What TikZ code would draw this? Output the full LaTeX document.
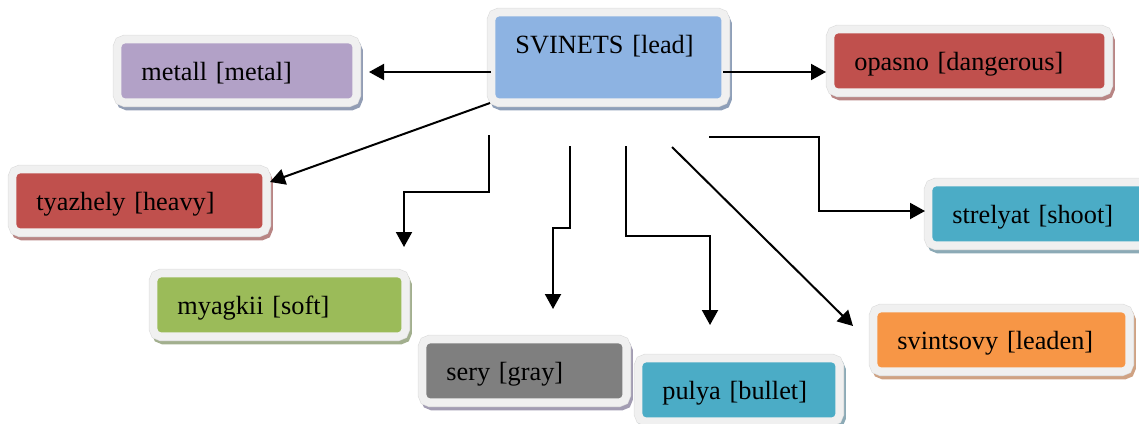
\documentclass[tikz,border=0pt]{standalone}
\usepackage{fontspec}
\setmainfont{Liberation Serif}
\usetikzlibrary{arrows.meta}
\definecolor{cblue}{HTML}{8DB3E2}\definecolor{sblue}{HTML}{8E9FB8}
\definecolor{clav}{HTML}{B2A1C7}\definecolor{slav}{HTML}{929DB4}
\definecolor{cred}{HTML}{C0504D}\definecolor{sred}{HTML}{B88584}
\definecolor{cgreen}{HTML}{9BBB59}\definecolor{sgreen}{HTML}{A2AF8E}
\definecolor{cgray}{HTML}{7F7F7F}\definecolor{sgray}{HTML}{A29CB2}
\definecolor{cteal}{HTML}{4BACC6}\definecolor{steal}{HTML}{8CAAB6}
\definecolor{corange}{HTML}{F79646}\definecolor{sorange}{HTML}{CFA283}
\definecolor{framegray}{HTML}{F0F0F0}\definecolor{frameedge}{HTML}{DCDCDC}
\tikzset{
  cbox/.style n args={3}{
    anchor=north west, fill=#1, rounded corners=2pt,
    inner xsep=10pt, inner ysep=0pt, text width=#3, align=left,
    text height=18.5pt, text depth=9pt,
    font=\fontsize{13.15pt}{15pt}\selectfont,
    preaction={draw=#2, fill=#2, line width=8pt,
               transform canvas={shift={(1.2pt,-2pt)}}},
    preaction={draw=frameedge, line width=8.6pt},
    preaction={draw=framegray, line width=8pt}},
  conn/.style={line width=1pt, -{Triangle[length=7.5pt,width=8pt]}}
}
\begin{document}
\begin{tikzpicture}[x=0.5pt,y=-0.5pt]
\useasboundingbox (0,0) rectangle (1139,423);
\clip (0,0) rectangle (1139,423);
% boxes
\node[cbox={cblue}{sblue}{93pt}, text depth=22.5pt] (root) at (495,16) {SVINETS [lead]};
\node[cbox={clav}{slav}{95.5pt}] (metall) at (121,43) {metall [metal]};
\node[cbox={cred}{sred}{115pt}] (opasno) at (834,33) {opasno [dangerous]};
\node[cbox={cred}{sred}{103pt}] (tyazh) at (16,173) {tyazhely [heavy]};
\node[cbox={cgreen}{sgreen}{102pt}] (myag) at (157,277) {myagkii [soft]};
\node[cbox={cgray}{sgray}{78pt}] (sery) at (426,343) {sery [gray]};
\node[cbox={cteal}{steal}{76.5pt}] (pulya) at (642,362) {pulya [bullet]};
\node[cbox={cteal}{steal}{100pt}] (strel) at (932,186) {strelyat [shoot]};
\node[cbox={corange}{sorange}{104pt}] (svin) at (877,312) {svintsovy [leaden]};
% connector end points
\coordinate (a1) at (491,72);  \coordinate (b1) at (369,72);
\coordinate (a2) at (490,103); \coordinate (b2) at (270,182);
\coordinate (a3) at (489,135); \coordinate (b3) at (404,247);
\coordinate (a4) at (570,146); \coordinate (b4) at (553,309);
\coordinate (a5) at (626,146); \coordinate (b5) at (710,325);
\coordinate (a6) at (672,147); \coordinate (b6) at (853,326);
\coordinate (a7) at (709,137); \coordinate (b7) at (925,211);
\coordinate (a8) at (723,72);  \coordinate (b8) at (826,72);
% connectors
\draw[conn] (a1) -- (b1);
\draw[conn] (a2) -- (b2);
\draw[conn] (a3) -- (a3 |- 0,192) -| (b3);
\draw[conn] (a4) -- (a4 |- 0,228) -| (b4);
\draw[conn] (a5) -- (a5 |- 0,236) -| (b5);
\draw[conn] (a6) -- (b6);
\draw[conn] (a7) -- (819,137) |- (b7);
\draw[conn] (a8) -- (b8);
\end{tikzpicture}
\end{document}
